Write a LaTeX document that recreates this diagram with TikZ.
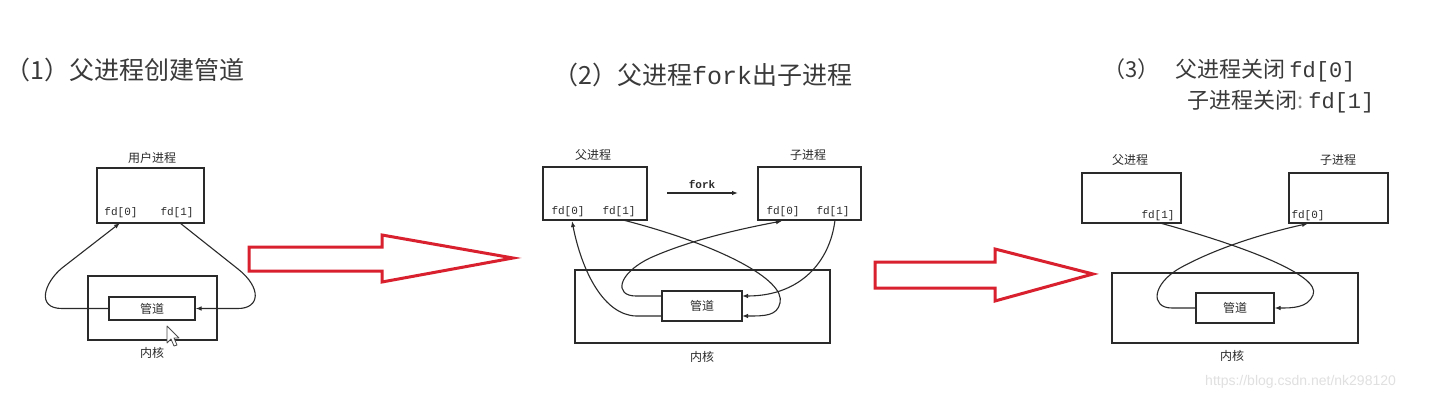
\documentclass[tikz,border=0pt]{standalone}
\usepackage{fontspec}
\usetikzlibrary{arrows.meta}
\newfontfamily\cjk{Noto Sans CJK SC}
\newfontfamily\mono{Liberation Mono}
\newfontfamily\wmfont{Liberation Sans}
\definecolor{lc}{HTML}{2A2A2A}
\definecolor{tc}{HTML}{3A3A3A}
\definecolor{rc}{HTML}{D8202E}
\begin{document}
\begin{tikzpicture}[x=1pt,y=-1pt,
  box/.style={draw=lc, line width=1.1pt, inner sep=0pt},
  lbl/.style={text=lc, font=\cjk\fontsize{12}{12}\selectfont, inner sep=0pt},
  fdl/.style={text=lc, font=\mono\fontsize{11}{11}\selectfont, inner sep=0pt},
  ttl/.style={text=tc, inner sep=0pt, anchor=west},
  conn/.style={draw=lc, line width=1.1pt},
  tip/.style={conn, -{Latex[length=6pt,width=4.5pt]}},
  redarrow/.style={draw=rc, line width=3pt, line join=miter, fill=white}]
\useasboundingbox[fill=white] (0,0) rectangle (1431,401);

% ---------------- titles ----------------
\node[ttl, font=\cjk\fontsize{25}{25}\selectfont] (t1) at (5,70) {（1）父进程创建管道};
\node[ttl, font=\cjk\fontsize{25}{25}\selectfont] (t2) at (553,75) {（2）父进程{\mono fork}出子进程};
\node[ttl, font=\cjk\fontsize{22}{22}\selectfont] (t3a) at (1103,70) {（3）\hspace{16pt}父进程关闭\hspace{4pt}{\mono fd[0]}};
\node[ttl, font=\cjk\fontsize{22}{22}\selectfont] (t3b) at (1187,102) {子进程关闭{\color{black!45}:}\hspace{5pt}{\mono fd[1]}};

% ---------------- panel 1 ----------------
\node[box, minimum width=107, minimum height=55] (u1) at (150.5,195.5) {};
\node[lbl] (u1t) at (152,158) {用户进程};
\node[fdl] (u1f0) at (121,213) {fd[0]};
\node[fdl] (u1f1) at (177,213) {fd[1]};
\node[box, minimum width=129, minimum height=64] (k1) at (152.5,308) {};
\node[box, minimum width=86, minimum height=23, fill=white] (p1) at (152,308.5) {};
\node[lbl] (p1t) at (p1) {管道};
\node[lbl] (k1t) at (152,353) {内核};
\coordinate (u1a0) at (120,223);
\coordinate (u1a1) at (180,223);
\draw[tip] (p1.west) -- (62,308.5) .. controls (36,308.5) and (44,283) .. (62,268) -- (u1a0);
\draw[tip] (u1a1) -- (238,269) .. controls (262,288) and (260,308.5) .. (238,308.5) -- (p1.east);
% mouse cursor
\draw[draw=black!70, fill=white, line width=0.8pt, line join=round]
  (167,326) -- (167,343) -- (171,339) -- (174,346) -- (177,345) -- (174,338) -- (179,338) -- cycle;

% red arrow 1
\draw[redarrow] (249,247) -- (382,247) -- (382,235) -- (513,258) -- (382,282) -- (382,271) -- (249,271) -- cycle;

% ---------------- panel 2 ----------------
\node[box, minimum width=104, minimum height=53] (p2) at (595,193.5) {};
\node[box, minimum width=103, minimum height=53] (c2) at (809.5,193.5) {};
\node[lbl] (p2t) at (593,155) {父进程};
\node[lbl] (c2t) at (808,155) {子进程};
\node[fdl] (p2f0) at (568,212) {fd[0]};
\node[fdl] (p2f1) at (619,212) {fd[1]};
\node[fdl] (c2f0) at (783,212) {fd[0]};
\node[fdl] (c2f1) at (833,212) {fd[1]};
\coordinate (fk1) at (667,193);
\coordinate (fk2) at (738,193);
\draw[tip] (fk1) -- (fk2);
\node[fdl, font=\mono\bfseries\fontsize{11}{11}\selectfont] (fkt) at (702,184) {fork};
\node[box, minimum width=255, minimum height=73] (k2) at (702.5,306.5) {};
\node[box, minimum width=80, minimum height=30, fill=white] (pp2) at (702,306) {};
\node[lbl] (pp2t) at (pp2) {管道};
\node[lbl] (k2t) at (702,357) {内核};
\coordinate (pp2lu) at (662,296);
\coordinate (pp2ll) at (662,316);
\coordinate (pp2ru) at (742,296);
\coordinate (pp2rl) at (742,316);
\coordinate (p2a0) at (572,221);
\coordinate (p2a1) at (623,220);
\coordinate (c2a0) at (782,221);
\coordinate (c2a1) at (835,220);
\draw[tip] (pp2ll) -- (636,316) .. controls (604,315) and (582,272) .. (p2a0);
\draw[tip] (p2a1) .. controls (720,245) and (786,280) .. (780,303) .. controls (777,316) and (765,316) .. (pp2rl);
\draw[tip] (c2a1) .. controls (830,262) and (800,296) .. (pp2ru);
\draw[tip] (pp2lu) -- (636,296) .. controls (614,296) and (617,274) .. (650,258) .. controls (690,240) and (740,229) .. (c2a0);

% red arrow 2
\draw[redarrow] (875,262) -- (995,262) -- (995,249) -- (1093,274) -- (995,301) -- (995,288) -- (875,288) -- cycle;

% ---------------- panel 3 ----------------
\node[box, minimum width=99, minimum height=50] (p3) at (1131.5,198) {};
\node[box, minimum width=99, minimum height=50] (c3) at (1338.5,198) {};
\node[lbl] (p3t) at (1130,160) {父进程};
\node[lbl] (c3t) at (1338,160) {子进程};
\node[fdl] (p3f1) at (1158,216) {fd[1]};
\node[fdl] (c3f0) at (1308,216) {fd[0]};
\node[box, minimum width=246, minimum height=70] (k3) at (1235,308) {};
\node[box, minimum width=78, minimum height=30, fill=white] (pp3) at (1235,308) {};
\node[lbl] (pp3t) at (pp3) {管道};
\node[lbl] (k3t) at (1232,356) {内核};
\coordinate (p3a1) at (1160,223);
\coordinate (c3a0) at (1308,223.5);
\draw[tip] (p3a1) .. controls (1240,245) and (1322,275) .. (1313,295) .. controls (1308,308) and (1292,308) .. (pp3.east);
\draw[tip] (pp3.west) -- (1172,308) .. controls (1150,308) and (1152,284) .. (1180,268) .. controls (1220,246) and (1270,232) .. (c3a0);

% watermark
\node[anchor=west, inner sep=0pt, text=black!12, font=\wmfont\fontsize{14}{14}\selectfont] (wm) at (1205,382) {https://blog.csdn.net/nk298120};
\end{tikzpicture}
\end{document}
